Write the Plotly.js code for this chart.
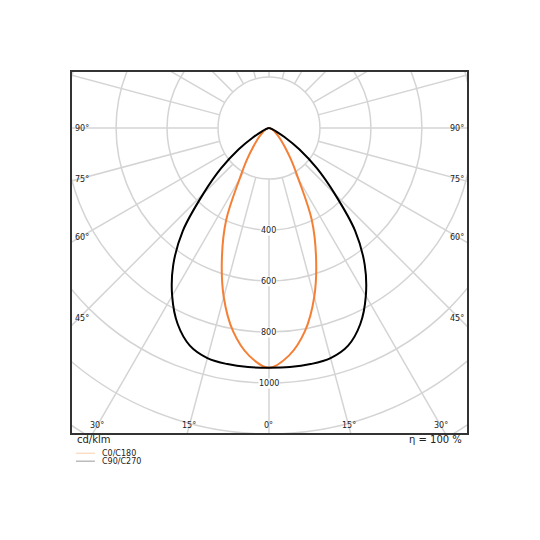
<!DOCTYPE html>
<html>
<head>
<meta charset="utf-8">
<script src="https://cdn.plot.ly/plotly-3.0.1.min.js"></script>
<style>
  html, body { margin: 0; padding: 0; background: #fff; }
  #chart { width: 540px; height: 540px; }
</style>
</head>
<body>
<div id="chart"></div>
<script>
// Data (gamma angle in degrees, intensity in cd/klm)
const angles = [0, 5, 10, 15, 20, 25, 30, 35, 40, 45, 50, 55, 60, 65, 70, 75, 80, 85, 90];
const c0c180 = [940, 896, 810, 686, 540, 397, 232, 150, 96, 65, 45, 32, 22, 15, 10, 6, 4, 2, 0];
const c90c270 = [940, 941, 940, 934, 908, 848, 760, 655, 526, 365, 245, 145, 70, 32, 15, 8, 4, 2, 0];
const ringValues = [200, 400, 600, 800, 1000, 1200, 1400, 1600];
const ringLabels = [400, 600, 800, 1000];
const sideAngles = [45, 60, 75, 90];
const bottomAngles = [0, 15, 30];
const seriesNames = ['C0/C180', 'C90/C270'];

const xRange = [-773, 777];
const yRange = [-1196, 220];
const rad = d => d * Math.PI / 180;

// polar -> cartesian, left half mirrored, 0° pointing down
function toXY(vals) {
  const x = [], y = [];
  for (let i = angles.length - 1; i >= 0; i--) {
    x.push(-vals[i] * Math.sin(rad(angles[i])));
    y.push(-vals[i] * Math.cos(rad(angles[i])));
  }
  for (let i = 1; i < angles.length; i++) {
    x.push(vals[i] * Math.sin(rad(angles[i])));
    y.push(-vals[i] * Math.cos(rad(angles[i])));
  }
  return { x, y };
}

const a = toXY(c0c180);
const b = toXY(c90c270);

const traces = [
  { x: a.x, y: a.y, mode: 'lines', line: { color: '#f47f35', width: 2, shape: 'spline', smoothing: 1 },
    name: seriesNames[0], hoverinfo: 'skip' },
  { x: b.x, y: b.y, mode: 'lines', line: { color: '#000000', width: 2, shape: 'spline', smoothing: 1 },
    name: seriesNames[1], hoverinfo: 'skip' }
];

// Grid
const grid = '#d4d4d4';
const shapes = [];
ringValues.forEach(r => {
  shapes.push({ type: 'circle', xref: 'x', yref: 'y', x0: -r, x1: r, y0: -r, y1: r,
    line: { color: grid, width: 1.5 }, layer: 'below' });
});
for (let d = 0; d < 360; d += 15) {
  const s = Math.sin(rad(d)), c = Math.cos(rad(d));
  shapes.push({ type: 'line', xref: 'x', yref: 'y', x0: 200 * s, y0: -200 * c, x1: 2000 * s, y1: -2000 * c,
    line: { color: grid, width: 1.5 }, layer: 'below' });
}

// Legend lines
shapes.push({ type: 'line', xref: 'paper', yref: 'paper', x0: 0.01, x1: 0.058, y0: -0.056, y1: -0.056,
  line: { color: '#f9cfae', width: 1 } });
shapes.push({ type: 'line', xref: 'paper', yref: 'paper', x0: 0.01, x1: 0.058, y0: -0.078, y1: -0.078,
  line: { color: '#9a9a9a', width: 1 } });

const font = { family: 'DejaVu Sans, sans-serif', size: 8, color: '#222' };
const bigFont = { family: 'DejaVu Sans, sans-serif', size: 10, color: '#222' };
const annotations = [];

ringLabels.forEach(r => {
  annotations.push({ x: 0, y: -r, xref: 'x', yref: 'y', text: String(r), showarrow: false,
    font: font, bgcolor: '#ffffff', borderpad: 0 });
});

// angle labels on the sides
const insetX = 31;
sideAngles.forEach(d => {
  const t = (xRange[1] - insetX) / Math.sin(rad(d));
  const yy = -t * Math.cos(rad(d));
  annotations.push({ x: xRange[0] + 2, y: yy, xref: 'x', yref: 'y', text: d + '°', showarrow: false,
    xanchor: 'left', font: font });
  annotations.push({ x: xRange[1] - 2, y: yy, xref: 'x', yref: 'y', text: d + '°', showarrow: false,
    xanchor: 'right', font: font });
});
// angle labels at the bottom
const insetY = 30;
bottomAngles.forEach(d => {
  const t = (-yRange[0] - insetY) / Math.cos(rad(d));
  const xx = t * Math.sin(rad(d));
  annotations.push({ x: -xx, y: yRange[0] + insetY, xref: 'x', yref: 'y', text: d + '°', showarrow: false, font: font });
  if (d > 0) {
    annotations.push({ x: xx, y: yRange[0] + insetY, xref: 'x', yref: 'y', text: d + '°', showarrow: false, font: font });
  }
});

annotations.push({ x: 0, y: -0.019, xref: 'paper', yref: 'paper', text: 'cd/klm', showarrow: false,
  xanchor: 'left', yanchor: 'middle', xshift: 3, font: bigFont });
annotations.push({ x: 1, y: -0.019, xref: 'paper', yref: 'paper', text: 'η = 100 %', showarrow: false,
  xanchor: 'right', yanchor: 'middle', xshift: -3, font: bigFont });
annotations.push({ x: 0.071, y: -0.056, xref: 'paper', yref: 'paper', text: seriesNames[0], showarrow: false,
  xanchor: 'left', yanchor: 'middle', font: font });
annotations.push({ x: 0.071, y: -0.078, xref: 'paper', yref: 'paper', text: seriesNames[1], showarrow: false,
  xanchor: 'left', yanchor: 'middle', font: font });

const axis = { showgrid: false, zeroline: false, showticklabels: false, ticks: '',
  showline: true, mirror: true, linecolor: '#333', linewidth: 2, fixedrange: true };

Plotly.newPlot('chart', traces, {
  width: 540, height: 540,
  margin: { l: 72, r: 73, t: 72, b: 107 },
  paper_bgcolor: '#fff', plot_bgcolor: '#fff',
  xaxis: Object.assign({ range: xRange }, axis),
  yaxis: Object.assign({ range: yRange }, axis),
  shapes: shapes,
  annotations: annotations,
  showlegend: false
}, { displayModeBar: false, staticPlot: true });
</script>
</body>
</html>
